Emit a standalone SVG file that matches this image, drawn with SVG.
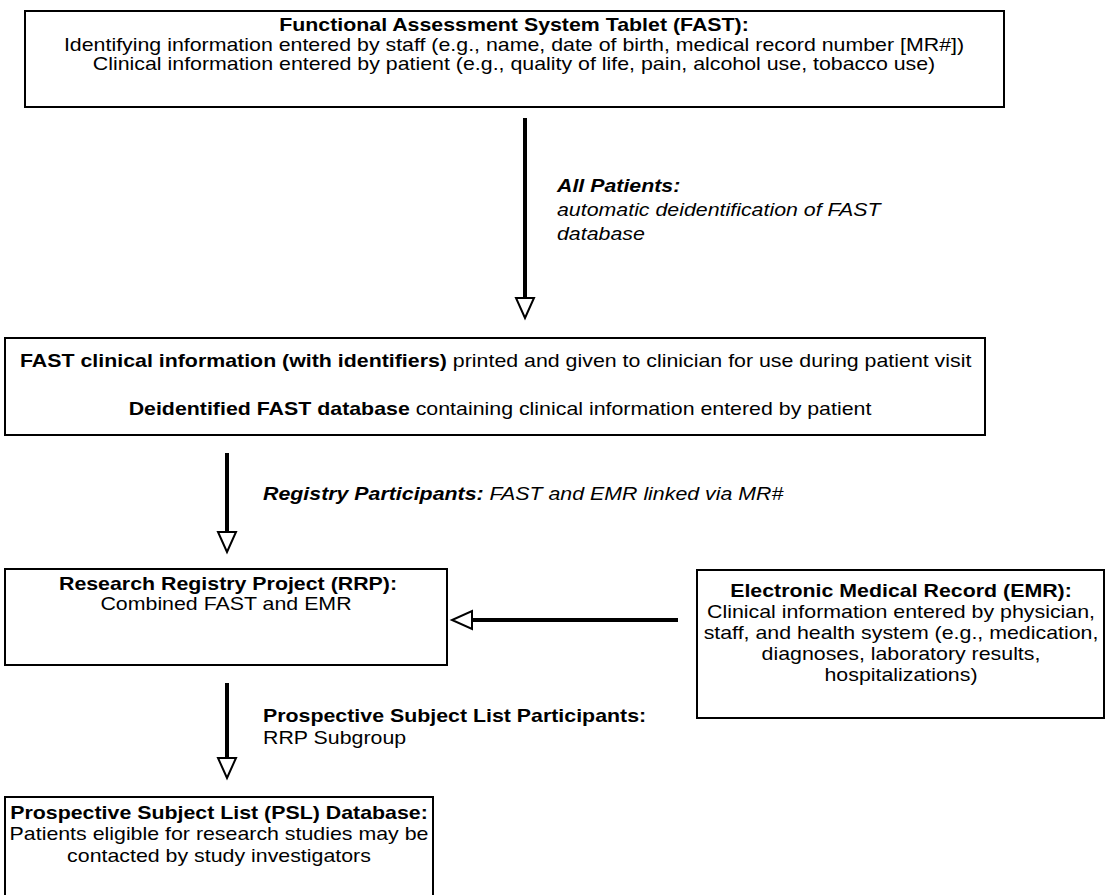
<svg xmlns="http://www.w3.org/2000/svg" width="1109" height="895" viewBox="0 0 1109 895">
<style>
.box{fill:#fff;stroke:#000;stroke-width:2}
.t{font-family:"Liberation Sans",Arial,sans-serif;font-size:17.5px;fill:#000}
.b{font-weight:bold}
.i{font-style:italic}
.c{text-anchor:middle}
.conn{stroke:#000;stroke-width:4;fill:none}
.head{fill:#fff;stroke:#000;stroke-width:2}
</style>
<rect width="1109" height="895" fill="#fff"/>
<g id="connectors">
<line class="conn" x1="525" y1="118" x2="525" y2="298"/>
<polygon class="head" points="516,298 534,298 525,318"/>
<line class="conn" x1="227" y1="453" x2="227" y2="532"/>
<polygon class="head" points="218,532 236,532 227,552"/>
<line class="conn" x1="678" y1="620" x2="472" y2="620"/>
<polygon class="head" points="472,611 472,629 452,620"/>
<line class="conn" x1="227" y1="683" x2="227" y2="758"/>
<polygon class="head" points="218,758 236,758 227,778"/>
<text class="t b i" transform="translate(557 192) scale(1.22 1)">All Patients:</text>
<text class="t i" transform="translate(557 216) scale(1.22 1)">automatic deidentification of FAST</text>
<text class="t i" transform="translate(557 240) scale(1.22 1)">database</text>
<text class="t i" transform="translate(263 500) scale(1.22 1)"><tspan class="b">Registry Participants:</tspan>  FAST and EMR linked via MR#</text>
<text class="t b" transform="translate(263 722) scale(1.22 1)">Prospective Subject List Participants:</text>
<text class="t" transform="translate(263 744) scale(1.22 1)">RRP Subgroup</text>
</g>
<g id="fast">
<rect class="box" x="25" y="11" width="979" height="96"/>
<text class="t b c" transform="translate(514 31) scale(1.22 1)">Functional Assessment System Tablet (FAST):</text>
<text class="t c" transform="translate(514 51) scale(1.22 1)">Identifying information entered by staff (e.g., name, date of birth, medical record number [MR#])</text>
<text class="t c" transform="translate(514 70) scale(1.22 1)">Clinical information entered by patient (e.g., quality of life, pain, alcohol use, tobacco use)</text>
</g>
<g id="fast-output">
<rect class="box" x="5" y="338" width="980" height="97"/>
<text class="t" transform="translate(20 367) scale(1.22 1)"><tspan class="b">FAST clinical information (with identifiers)</tspan> printed and given to clinician for use during patient visit</text>
<text class="t c" transform="translate(500 415) scale(1.22 1)"><tspan class="b">Deidentified FAST database</tspan> containing clinical information entered by patient</text>
</g>
<g id="rrp">
<rect class="box" x="5" y="569" width="442" height="96"/>
<text class="t b c" transform="translate(228 590) scale(1.22 1)">Research Registry Project (RRP):</text>
<text class="t c" transform="translate(226 610) scale(1.22 1)">Combined FAST and EMR</text>
</g>
<g id="emr">
<rect class="box" x="697" y="570" width="407" height="148"/>
<text class="t b c" transform="translate(901 597) scale(1.22 1)">Electronic Medical Record (EMR):</text>
<text class="t c" transform="translate(901 618) scale(1.22 1)">Clinical information entered by physician,</text>
<text class="t c" transform="translate(901 639) scale(1.22 1)">staff, and health system (e.g., medication,</text>
<text class="t c" transform="translate(901 660) scale(1.22 1)">diagnoses, laboratory results,</text>
<text class="t c" transform="translate(901 681) scale(1.22 1)">hospitalizations)</text>
</g>
<g id="psl">
<rect class="box" x="5" y="797" width="428" height="110"/>
<text class="t b c" transform="translate(219 819) scale(1.22 1)">Prospective Subject List (PSL) Database:</text>
<text class="t c" transform="translate(219 840) scale(1.22 1)">Patients eligible for research studies may be</text>
<text class="t c" transform="translate(219 862) scale(1.22 1)">contacted by study investigators</text>
</g>
</svg>
